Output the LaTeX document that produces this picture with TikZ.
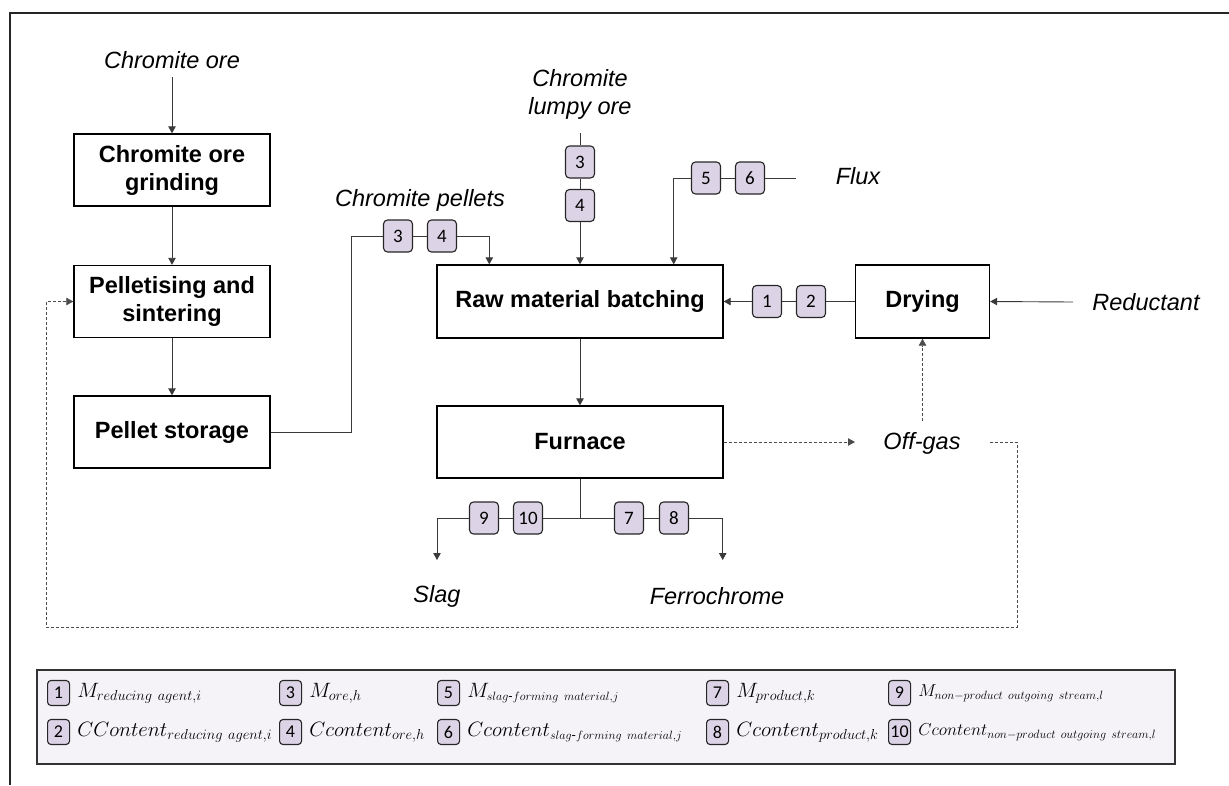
\documentclass[tikz,border=0pt]{standalone}
\usepackage{fontspec}
\usepackage{amsmath}
\setmainfont{Liberation Sans}
\newfontfamily\numfont{Carlito}
\usetikzlibrary{arrows.meta,calc}
% legend formulas: large main symbols, compact subscripts
\DeclareMathSizes{20.5}{20.5}{13.5}{10}
\DeclareMathSizes{20}{20}{13}{10}
\DeclareMathSizes{19}{19}{12}{9}

\definecolor{badgefill}{HTML}{DCD4E6}
\definecolor{legendfill}{HTML}{F5F3F8}
\definecolor{linegray}{HTML}{3A3A3A}

\tikzset{
  unitbox/.style={draw=black, line width=1.4pt, minimum width=196pt, minimum height=72pt,
    align=center, inner sep=0pt, font=\fontsize{23.5}{28}\selectfont\bfseries},
  flowlabel/.style={font=\fontsize{23.5}{28}\selectfont\itshape, align=center, inner sep=0pt},
  tag/.style={draw=black!85, line width=1.1pt, fill=badgefill, rounded corners=4pt,
    minimum width=29pt, minimum height=32pt, inner sep=0pt, font=\numfont\fontsize{19}{20}\selectfont},
  smalltag/.style={tag, minimum width=22pt, minimum height=25pt, rounded corners=3.5pt,
    font=\numfont\fontsize{18}{19}\selectfont, anchor=west},
  conn/.style={draw=linegray, line width=0.9pt},
  flow/.style={conn, -{Triangle[length=7pt,width=7.5pt]}},
  gasline/.style={draw=black!70, line width=0.8pt, dash pattern=on 3pt off 2pt},
  gasflow/.style={gasline, -{Triangle[length=7pt,width=7.5pt]}},
  legendtext/.style={anchor=west, inner sep=0pt, font=\fontsize{20.5}{24}\selectfont},
  midlegendtext/.style={legendtext, font=\fontsize{20}{24}\selectfont},
  widelegendtext/.style={legendtext, font=\fontsize{19}{22}\selectfont},
}

\begin{document}
\begin{tikzpicture}[x=1pt,y=-1pt]
\useasboundingbox (0,0) rectangle (1229,785);

% outer frame (top and left edges)
\draw[line width=2pt, black!85] (1229,12.5) -- (9.5,12.5) -- (9.5,785);

% unit operations
\node[unitbox] (grind) at (172,170) {Chromite ore\\grinding};
\node[unitbox] (pellet) at (172,301.5) {Pelletising and\\sintering};
\node[unitbox] (store) at (172,432) {Pellet storage};
\node[unitbox, minimum width=286pt, minimum height=73pt] (raw) at (580,301.5) {Raw material batching};
\node[unitbox, minimum width=134pt, minimum height=73pt] (dry) at (922.5,301.5) {Drying};
\node[unitbox, minimum width=286pt] (furn) at (580,442) {Furnace};

% stream names
\node[flowlabel] (ore) at (172,60) {Chromite ore};
\node[flowlabel] (lumpy) at (580,94) {Chromite\\lumpy ore};
\node[flowlabel] (pellets) at (420,200) {Chromite pellets};
\node[flowlabel] (flux) at (858,176) {Flux};
\node[flowlabel] (red) at (1146,302) {Reductant};
\node[flowlabel] (gas) at (922,443) {Off-gas};
\node[flowlabel] (slag) at (437,596) {Slag};
\node[flowlabel] (fecr) at (717,596) {Ferrochrome};

% free ends of the stream lines
\coordinate (oretail) at (172,77);
\coordinate (lumpytail) at (580,133);
\coordinate (fluxtail) at (796,178);
\coordinate (redtail) at (1073,302);
\coordinate (gasin) at (855,442);
\coordinate (gasup) at (922.5,421);
\coordinate (gasout) at (990,442);
\coordinate (slagtip) at (437,560);
\coordinate (fecrtip) at (722.7,560);

% pellet route
\draw[flow] (oretail) -- (grind.north);
\draw[flow] (grind) -- (pellet);
\draw[flow] (pellet) -- (store);

\node[tag] (p3) at (398,236) {3};
\node[tag] (p4) at (442,236) {4};
\draw[conn] (store.east) -- ++(81,0) |- (p3.west);
\draw[conn] (p3) -- (p4);
\draw[flow] (p4.east) -| ([xshift=53pt]raw.north west);

% lumpy ore
\node[tag] (l3) at (580,162) {3};
\node[tag] (l4) at (580,205.5) {4};
\draw[conn] (lumpytail) -- (l3);
\draw[conn] (l3) -- (l4);
\draw[flow] (l4) -- (raw.north);

% flux
\node[tag] (f5) at (706,178) {5};
\node[tag] (f6) at (750,178) {6};
\draw[conn] (fluxtail) -- (f6);
\draw[conn] (f6) -- (f5);
\draw[flow] (f5.west) -| ([xshift=-50pt]raw.north east);

% reductant
\node[tag] (r1) at (767,301.5) {1};
\node[tag] (r2) at (811,301.5) {2};
\draw[flow] (redtail) -- (dry.east);
\draw[conn] (dry.west) -- (r2);
\draw[conn] (r2) -- (r1);
\draw[flow] (r1) -- (raw.east);

% smelting
\draw[flow] (raw) -- (furn);
\draw[gasflow] (furn.east) -- (gasin);
\draw[gasflow] (gasup) -- (dry.south);
\draw[gasflow] (gasout) -| ++(27,185) -| ([xshift=-27pt]pellet.west) -- (pellet.west);

% furnace products
\node[tag] (s9) at (484,518) {9};
\node[tag] (s10) at (528,518) {10};
\node[tag] (p7) at (629,518) {7};
\node[tag] (p8) at (674,518) {8};
\draw[conn] (furn.south) -- (furn.south |- s10);
\draw[conn] (furn.south |- s10) -- (s10);
\draw[conn] (s10) -- (s9);
\draw[flow] (s9.west) -| (slagtip);
\draw[conn] (furn.south |- p7) -- (p7);
\draw[conn] (p7) -- (p8);
\draw[flow] (p8.east) -| (fecrtip);

% legend
\node[draw=black!80, line width=1.6pt, fill=legendfill, minimum width=1138pt, minimum height=94pt,
  anchor=north west, inner sep=0pt] (legend) at (36,669) {};

\node[smalltag] (k1) at (47,693) {1};
\node[legendtext] (t1) at ([xshift=7pt]k1.east) {$M_{reducing\ agent,i}$};
\node[smalltag] (k2) at (47,732) {2};
\node[legendtext] (t2) at ([xshift=7pt]k2.east) {$CContent_{reducing\ agent,i}$};

\node[smalltag] (k3) at (279,693) {3};
\node[legendtext] (t3) at ([xshift=7pt]k3.east) {$M_{ore,h}$};
\node[smalltag] (k4) at (279,732) {4};
\node[legendtext] (t4) at ([xshift=7pt]k4.east) {$Ccontent_{ore,h}$};

\node[smalltag] (k5) at (437,693) {5};
\node[midlegendtext] (t5) at ([xshift=7pt]k5.east) {$M_{slag\text{-}forming\ material,j}$};
\node[smalltag] (k6) at (437,732) {6};
\node[midlegendtext] (t6) at ([xshift=7pt]k6.east) {$Ccontent_{slag\text{-}forming\ material,j}$};

\node[smalltag] (k7) at (706,693) {7};
\node[legendtext] (t7) at ([xshift=7pt]k7.east) {$M_{product,k}$};
\node[smalltag] (k8) at (706,732) {8};
\node[legendtext] (t8) at ([xshift=7pt]k8.east) {$Ccontent_{product,k}$};

\node[smalltag] (k9) at (888,693) {9};
\node[widelegendtext] (t9) at ([xshift=7pt]k9.east) {$M_{non{-}product\ outgoing\ stream,l}$};
\node[smalltag] (k10) at (888,732) {10};
\node[widelegendtext] (t10) at ([xshift=7pt]k10.east) {$Ccontent_{non{-}product\ outgoing\ stream,l}$};

\end{tikzpicture}
\end{document}
